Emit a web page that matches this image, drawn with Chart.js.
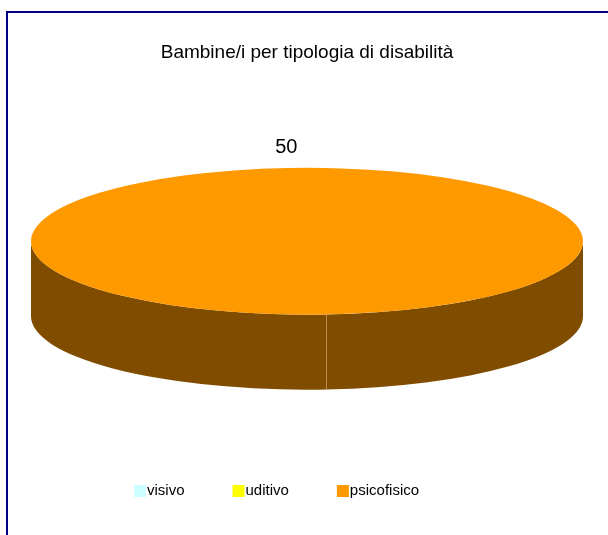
<!DOCTYPE html>
<html>
<head>
<meta charset="utf-8">
<script src="https://cdn.jsdelivr.net/npm/chart.js@4.4.1/dist/chart.umd.min.js"></script>
<style>
  html, body { margin: 0; padding: 0; background: #fff; overflow: hidden; }
  #frame {
    position: absolute; left: 6px; top: 11px; width: 700px; height: 600px;
    border-top: 2px solid #000080; border-left: 2px solid #000080;
  }
  #chart { position: absolute; left: 0; top: 0; }
</style>
</head>
<body>
<div id="frame"></div>
<canvas id="chart" width="608" height="535"></canvas>
<script>
// data
const categories = ["visivo", "uditivo", "psicofisico"];
const counts = [0, 0, 50];
const chartTitle = "Bambine/i per tipologia di disabilità";

// look
const sliceColours = ["#ccffff", "#ffff00", "#ff9900"];
const sideColours = ["#667f7f", "#7f7f00", "#7f4c00"];
const edgeColour = "#b88a4c";
const FONT = '"Liberation Sans", Arial, sans-serif';
const TILT = 0.266;   // ry / rx of the top ellipse
const DEPTH = 0.272;  // side height / rx
const LABEL_GAP = 21;
const LEGEND_X = 134;
const LEGEND_Y = 491;
const LEGEND_GAP = 48;

const pie3d = {
    id: "pie3d",
    geometry(chart) {
        const a = chart.chartArea;
        const rx = (a.right - a.left) / 2;
        const ry = rx * TILT;
        return { cx: (a.left + a.right) / 2, cy: a.top + ry, rx: rx, ry: ry, depth: rx * DEPTH };
    },
    squash(ctx, arc, g) {
        ctx.translate(g.cx, g.cy);
        ctx.scale(g.rx / arc.outerRadius, g.ry / arc.outerRadius);
        ctx.translate(-arc.x, -arc.y);
    },
    beforeDatasetsDraw(chart) {
        const ctx = chart.ctx;
        const g = this.geometry(chart);
        const arcs = chart.getDatasetMeta(0).data;

        // extruded side: only the front half (angles 0..PI) can be seen
        arcs.forEach((arc, i) => {
            if (!(arc.circumference > 0)) return;
            for (let k = -1; k <= 2; k++) {
                const lo = Math.max(arc.startAngle, 2 * Math.PI * k);
                const hi = Math.min(arc.endAngle, 2 * Math.PI * k + Math.PI);
                if (hi <= lo) continue;
                ctx.save();
                ctx.beginPath();
                ctx.ellipse(g.cx, g.cy, g.rx, g.ry, 0, lo, hi);
                ctx.ellipse(g.cx, g.cy + g.depth, g.rx, g.ry, 0, hi, lo, true);
                ctx.closePath();
                ctx.fillStyle = sideColours[i];
                ctx.fill();
                ctx.restore();
            }
        });

        // slice edge on the front side
        arcs.forEach((arc) => {
            if (!(arc.circumference > 0)) return;
            const s = Math.sin(arc.startAngle);
            if (s <= 0) return;
            const x = Math.round(g.cx + g.rx * Math.cos(arc.startAngle)) + 0.5;
            const y = g.cy + g.ry * s;
            ctx.save();
            ctx.strokeStyle = edgeColour;
            ctx.lineWidth = 1;
            ctx.beginPath();
            ctx.moveTo(x, y);
            ctx.lineTo(x, y + g.depth);
            ctx.stroke();
            ctx.restore();
        });

        // top face: Chart.js draws the arcs through the squash transform
        ctx.save();
        this.squash(ctx, arcs[0], g);
    },
    afterDatasetsDraw(chart) {
        const ctx = chart.ctx;
        ctx.restore();
        const g = this.geometry(chart);
        const arcs = chart.getDatasetMeta(0).data;
        const values = chart.data.datasets[0].data;

        ctx.save();
        ctx.font = "20px " + FONT;
        ctx.fillStyle = "#000";
        ctx.textAlign = "center";
        ctx.textBaseline = "middle";
        arcs.forEach((arc, i) => {
            if (!(arc.circumference > 0)) return;
            const mid = (arc.startAngle + arc.endAngle) / 2;
            const x = g.cx + (g.rx + LABEL_GAP) * Math.cos(mid);
            const y = g.cy + (g.ry + LABEL_GAP) * Math.sin(mid);
            ctx.fillText(String(values[i]), x, y);
        });
        ctx.restore();
    },
    afterDraw(chart) {
        // legend in the style of the original
        const ctx = chart.ctx;
        const colours = chart.data.datasets[0].backgroundColor;
        ctx.save();
        ctx.font = "15px " + FONT;
        ctx.textBaseline = "middle";
        let x = LEGEND_X;
        chart.data.labels.forEach((label, i) => {
            ctx.fillStyle = colours[i];
            ctx.fillRect(x, LEGEND_Y - 6, 12, 12);
            ctx.fillStyle = "#000";
            ctx.fillText(label, x + 13, LEGEND_Y);
            x += 13 + ctx.measureText(label).width + LEGEND_GAP;
        });
        ctx.restore();
    }
};

new Chart(document.getElementById("chart"), {
    type: "pie",
    data: {
        labels: categories,
        datasets: [{
            data: counts,
            backgroundColor: sliceColours,
            borderWidth: 0,
            clip: false
        }]
    },
    options: {
        responsive: false,
        animation: false,
        events: [],
        rotation: 176,
        layout: { padding: { left: 31, right: 25, top: 0, bottom: 60 } },
        plugins: {
            legend: { display: false },
            tooltip: { enabled: false },
            title: {
                display: true,
                text: chartTitle,
                color: "#000",
                font: { family: FONT, size: 19, weight: "normal" },
                padding: { top: 41, bottom: 104 }
            }
        }
    },
    plugins: [pie3d]
});
</script>
</body>
</html>
